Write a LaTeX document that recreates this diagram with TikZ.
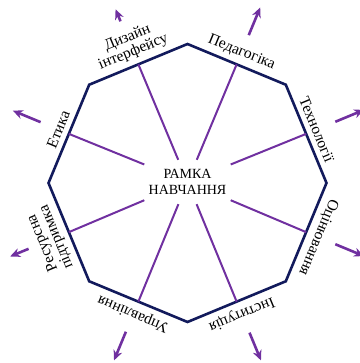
\documentclass[tikz,border=0pt]{standalone}
\usepackage{fontspec}
\setmainfont{Liberation Serif}
\usetikzlibrary{arrows.meta,calc}
\definecolor{navy}{HTML}{121A5C}
\definecolor{purp}{HTML}{7030A0}
\begin{document}
\begin{tikzpicture}[x=1pt,y=1pt,
  edgeline/.style={draw=navy, line width=2.6pt, line join=miter},
  spoke/.style={draw=purp, line width=2pt},
  outarrow/.style={draw=purp, line width=2.6pt, -{Stealth[length=10pt,width=9pt]}},
  lbl/.style={font=\fontsize{15.5}{15}\selectfont, anchor=south, inner sep=2pt, align=center},
  centre/.style={font=\fontsize{14}{15.5}\selectfont, align=center, minimum width=86pt, minimum height=44pt, inner sep=0pt}]
\useasboundingbox (-187.5,-180) rectangle (171.5,183);
\foreach \i in {0,...,7} \coordinate (v\i) at (\i*45:139);
\draw[edgeline] (v0)--(v1)--(v2)--(v3)--(v4)--(v5)--(v6)--(v7)--cycle;
\node[centre] (c) at (0,1) {РАМКА\\НАВЧАННЯ};
\foreach \i in {0,...,7} {
  \coordinate (m\i) at (22.5+\i*45:128.4);
  \draw[spoke] (c) -- (m\i);
}
\node[lbl, rotate=-67.5] (l0) at (22.5:132.5) {Технології};
\node[lbl, rotate=-22.5] (l1) at (67.5:132.5) {Педагогіка};
\node[lbl, rotate=22.5] (l2) at (112.5:132.5) {Дизайн\\інтерфейсу};
\node[lbl, rotate=67.5] (l3) at (157.5:132.5) {Етика};
\node[lbl, rotate=112.5] (l4) at (202.5:132.5) {Ресурсна\\підтримка};
\node[lbl, rotate=157.5] (l5) at (247.5:132.5) {Управління};
\node[lbl, rotate=202.5] (l6) at (292.5:132.5) {Інституція};
\node[lbl, rotate=247.5] (l7) at (337.5:132.5) {Оцінювання};
% arrows
\coordinate (a0s) at (22.5:160);  \coordinate (a0e) at (22.5:191);
\coordinate (a1s) at (67.5:160);  \coordinate (a1e) at (67.5:190);
\coordinate (a2s) at (112.5:175); \coordinate (a2e) at (112.5:188);
\coordinate (a3s) at (157.5:159); \coordinate (a3e) at (157.5:189);
\coordinate (a4s) at (202.5:172); \coordinate (a4e) at (202.5:192);
\coordinate (a5s) at (247.5:161); \coordinate (a5e) at (247.5:192);
\coordinate (a6s) at (292.5:162); \coordinate (a6e) at (292.5:192);
\coordinate (a7s) at (337.5:160); \coordinate (a7e) at (337.5:191);
\foreach \i in {0,...,7} \draw[outarrow] (a\i s) -- (a\i e);
\end{tikzpicture}
\end{document}
